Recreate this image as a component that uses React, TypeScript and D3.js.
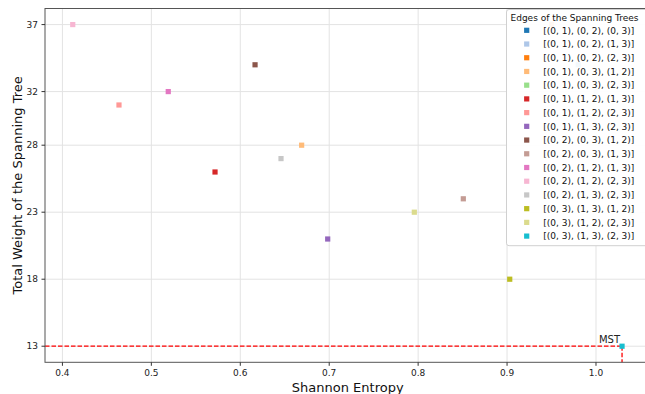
import * as d3 from "d3";

const treeLabels = [
  "[(0, 1), (0, 2), (0, 3)]",
  "[(0, 1), (0, 2), (1, 3)]",
  "[(0, 1), (0, 2), (2, 3)]",
  "[(0, 1), (0, 3), (1, 2)]",
  "[(0, 1), (0, 3), (2, 3)]",
  "[(0, 1), (1, 2), (1, 3)]",
  "[(0, 1), (1, 2), (2, 3)]",
  "[(0, 1), (1, 3), (2, 3)]",
  "[(0, 2), (0, 3), (1, 2)]",
  "[(0, 2), (0, 3), (1, 3)]",
  "[(0, 2), (1, 2), (1, 3)]",
  "[(0, 2), (1, 2), (2, 3)]",
  "[(0, 2), (1, 3), (2, 3)]",
  "[(0, 3), (1, 3), (1, 2)]",
  "[(0, 3), (1, 2), (2, 3)]",
  "[(0, 3), (1, 3), (2, 3)]",
];

// entropy of each tree (the first few sit behind the legend)
const entropy = [0.98, 1.0, 0.95, 0.669, 1.04, 0.5716, 0.4636, 0.6983, 0.6166, 0.8508, 0.519, 0.4116, 0.6458, 0.903, 0.7957, 1.0293];
const totalWeight = [34, 32, 37, 28, 23, 26, 31, 21, 34, 24, 32, 37, 27, 18, 23, 13];

const colors = [
  "#1f77b4", "#aec7e8", "#ff7f0e", "#ffbb78", "#98df8a", "#d62728", "#ff9896", "#9467bd",
  "#8c564b", "#c49c94", "#e377c2", "#f7b6d2", "#c7c7c7", "#bcbd22", "#dbdb8d", "#17becf",
];

const xTicks = [0.4, 0.5, 0.6, 0.7, 0.8, 0.9, 1.0];
const yTicks = [13, 18, 23, 28, 32, 37];

const mstIndex = 15;

const width = 645;
const height = 394;
const left = 45;
const right = 650.5;
const top = 8.5;
const bottom = 362.3;

const font = "DejaVu Sans, sans-serif";

export default function App() {
  const x = d3.scaleLinear().domain([0.3804, 1.0613]).range([left, right]);
  const y = d3.scaleLinear().domain([11.8, 38.2]).range([bottom, top]);

  const mx = x(entropy[mstIndex]);
  const my = y(totalWeight[mstIndex]);

  const legX = 506.5;
  const legY = 9.5;
  const rowH = 13.72;

  return (
    <svg width={width} height={height} style={{ position: "absolute", left: 0, top: 0, background: "#fff" }} fontFamily={font}>
      <rect x={0} y={0} width={width} height={height} fill="#fff" />
      {/* grid */}
      {xTicks.map(t => (
        <line key={"gx" + t} x1={x(t)} x2={x(t)} y1={top} y2={bottom} stroke="#e3e3e3" strokeWidth={1} />
      ))}
      {yTicks.map(t => (
        <line key={"gy" + t} x1={left} x2={right} y1={y(t)} y2={y(t)} stroke="#e3e3e3" strokeWidth={1} />
      ))}

      {/* MST guides */}
      <line x1={left} x2={mx} y1={my} y2={my} stroke="#ff0000" strokeWidth={1.3} strokeDasharray="4.5,2" />
      <line x1={mx} x2={mx} y1={my} y2={bottom} stroke="#ff0000" strokeWidth={1.3} strokeDasharray="4.5,2" />

      {/* points */}
      {entropy.map((e, i) => (
        <rect key={"p" + i} x={x(e) - 2.6} y={y(totalWeight[i]) - 2.6} width={5.2} height={5.2} fill={colors[i]} />
      ))}
      <text x={mx - 2} y={my - 3} textAnchor="end" fontSize={10} fill="#222">MST</text>

      {/* spines */}
      <rect x={left} y={top} width={right - left} height={bottom - top} fill="none" stroke="#555" strokeWidth={1} />

      {/* axes ticks */}
      {xTicks.map(t => (
        <g key={"xt" + t}>
          <line x1={x(t)} x2={x(t)} y1={bottom} y2={bottom + 3.5} stroke="#333" />
          <text x={x(t)} y={bottom + 14} textAnchor="middle" fontSize={9} fill="#222">{d3.format(".1f")(t)}</text>
        </g>
      ))}
      {yTicks.map(t => (
        <g key={"yt" + t}>
          <line x1={left - 3.5} x2={left} y1={y(t)} y2={y(t)} stroke="#333" />
          <text x={left - 7} y={y(t) + 3.2} textAnchor="end" fontSize={9} fill="#222">{t}</text>
        </g>
      ))}
      <text x={(left + right) / 2} y={391.5} textAnchor="middle" fontSize={13} fill="#111">Shannon Entropy</text>
      <text transform={`translate(22,${(top + bottom) / 2}) rotate(-90)`} textAnchor="middle" fontSize={13} fill="#111">
        Total Weight of the Spanning Tree
      </text>

      {/* legend */}
      <g>
        <rect x={legX} y={legY} width={160} height={245.7 - legY} rx={2.5} fill="#fff" fillOpacity={0.95} stroke="#d0d0d0" strokeWidth={1} />
        <text x={510.5} y={20.5} fontSize={9} fill="#111">Edges of the Spanning Trees</text>
        {treeLabels.map((lab, i) => (
          <g key={"l" + i}>
            <rect x={526.7 - 2.6} y={30.3 + i * rowH - 2.6} width={5.2} height={5.2} fill={colors[i]} />
            <text x={543.3} y={30.3 + i * rowH + 3.2} fontSize={9} fill="#111">{lab}</text>
          </g>
        ))}
      </g>
    </svg>
  );
}
